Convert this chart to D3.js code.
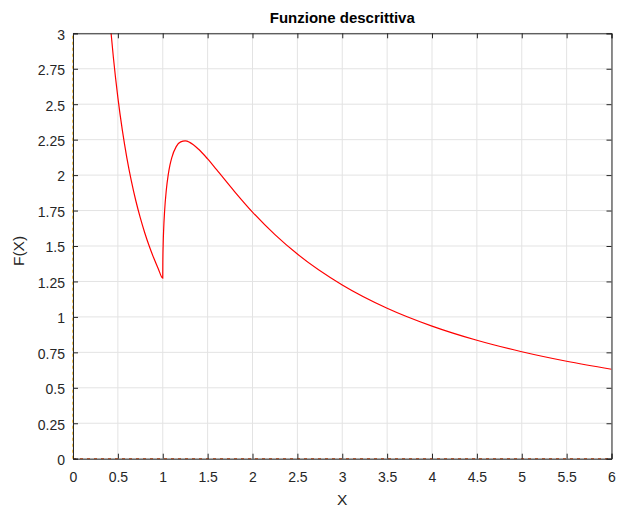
<!DOCTYPE html>
<html>
<head>
<meta charset="utf-8">
<script src="https://cdn.jsdelivr.net/npm/d3@7"></script>
<style>
  body { margin: 0; background: #fff; }
  svg { font-family: "Liberation Sans", Arial, sans-serif; }
</style>
</head>
<body>
<div id="chart"></div>
<script>
// values
var xTicks = [0, 0.5, 1, 1.5, 2, 2.5, 3, 3.5, 4, 4.5, 5, 5.5, 6];
var yTicks = [0, 0.25, 0.5, 0.75, 1, 1.25, 1.5, 1.75, 2, 2.25, 2.5, 2.75, 3];
var xValues = [0.4, 0.4244, 0.45, 0.5, 0.55, 0.6, 0.65, 0.7, 0.75, 0.8, 0.85, 0.9, 0.95, 1.0,
               1.001, 1.005, 1.01, 1.02, 1.04, 1.06, 1.08, 1.1, 1.15, 1.2, 1.25, 1.3, 1.4, 1.5,
               1.6, 1.8, 2.0, 2.25, 2.5, 3, 3.5, 4, 4.5, 5, 5.5, 6];
var fValues = [3.183, 3.0, 2.829, 2.546, 2.315, 2.122, 1.959, 1.819, 1.698, 1.592, 1.498, 1.415, 1.340, 1.273,
               1.386, 1.519, 1.615, 1.740, 1.897, 1.998, 2.070, 2.122, 2.201, 2.234, 2.241, 2.231, 2.182, 2.114,
               2.038, 1.884, 1.739, 1.580, 1.443, 1.225, 1.061, 0.935, 0.835, 0.754, 0.687, 0.631];
var zeroLineX = [0, 6];
var zeroLineY = [0, 3];

var W = 618, H = 507;
var m = { left: 73, right: 6.5, top: 33.3, bottom: 48.3 };
var iw = W - m.left - m.right, ih = H - m.top - m.bottom;

var svg = d3.select('#chart').append('svg').attr('width', W).attr('height', H);

var x = d3.scaleLinear().domain([0, 6]).range([0, iw]);
var y = d3.scaleLinear().domain([0, 3]).range([ih, 0]);

var g = svg.append('g').attr('transform', 'translate(' + m.left + ',' + m.top + ')');

// grid
g.append('g').selectAll('line').data(xTicks).join('line')
    .attr('x1', d => x(d)).attr('x2', d => x(d)).attr('y1', 0).attr('y2', ih)
    .attr('stroke', '#e3e3e3').attr('stroke-width', 1);
g.append('g').selectAll('line').data(yTicks).join('line')
    .attr('y1', d => y(d)).attr('y2', d => y(d)).attr('x1', 0).attr('x2', iw)
    .attr('stroke', '#e3e3e3').attr('stroke-width', 1);

g.append('defs').append('clipPath').attr('id', 'clip')
    .append('rect').attr('width', iw).attr('height', ih);

// zero lines (other series)
g.append('line')
    .attr('x1', x(zeroLineX[0])).attr('x2', x(zeroLineX[1])).attr('y1', y(0)).attr('y2', y(0))
    .attr('stroke', '#D95319').attr('stroke-width', 1).attr('stroke-dasharray', '3,4');
g.append('line')
    .attr('x1', x(0)).attr('x2', x(0)).attr('y1', y(zeroLineY[0])).attr('y2', y(zeroLineY[1]))
    .attr('stroke', '#EDB120').attr('stroke-width', 1.5).attr('stroke-dasharray', '3,3');

var line = d3.line().x(d => x(d[0])).y(d => y(d[1])).curve(d3.curveMonotoneX);
g.append('path')
    .datum(xValues.map((v, i) => [v, fValues[i]]))
    .attr('clip-path', 'url(#clip)')
    .attr('fill', 'none').attr('stroke', '#ff0000').attr('stroke-width', 1.2)
    .attr('d', line);

// axes
var axColor = '#262626';
var axBottom = g.append('g').attr('transform', 'translate(0,' + ih + ')')
    .call(d3.axisBottom(x).tickValues(xTicks).tickSize(-5).tickPadding(13).tickFormat(d3.format('')));
var axLeft = g.append('g')
    .call(d3.axisLeft(y).tickValues(yTicks).tickSize(-5).tickPadding(8).tickFormat(d3.format('')));
var axTop = g.append('g')
    .call(d3.axisTop(x).tickValues(xTicks).tickSize(-5).tickFormat(''));
var axRight = g.append('g').attr('transform', 'translate(' + iw + ',0)')
    .call(d3.axisRight(y).tickValues(yTicks).tickSize(-5).tickFormat(''));

[axBottom, axLeft, axTop, axRight].forEach(function(a) {
    a.select('.domain').attr('stroke', axColor);
    a.selectAll('.tick line').attr('stroke', axColor);
    a.selectAll('.tick text').attr('fill', axColor).style('font-size', '14px')
        .style('font-family', '"Liberation Sans", Arial, sans-serif');
});
axLeft.selectAll('.tick text').attr('dy', '0.42em');

// labels
svg.append('text').attr('x', m.left + iw / 2).attr('y', 23)
    .attr('text-anchor', 'middle').style('font-size', '15px').style('font-weight', 'bold')
    .attr('fill', '#000').text('Funzione descrittiva');
svg.append('text').attr('x', m.left + iw / 2).attr('y', 505)
    .attr('text-anchor', 'middle').style('font-size', '15.5px').attr('fill', axColor).text('X');
svg.append('text').attr('transform', 'translate(24,251) rotate(-90)')
    .attr('text-anchor', 'middle').style('font-size', '15.5px').attr('fill', axColor).text('F(X)');
</script>
</body>
</html>
